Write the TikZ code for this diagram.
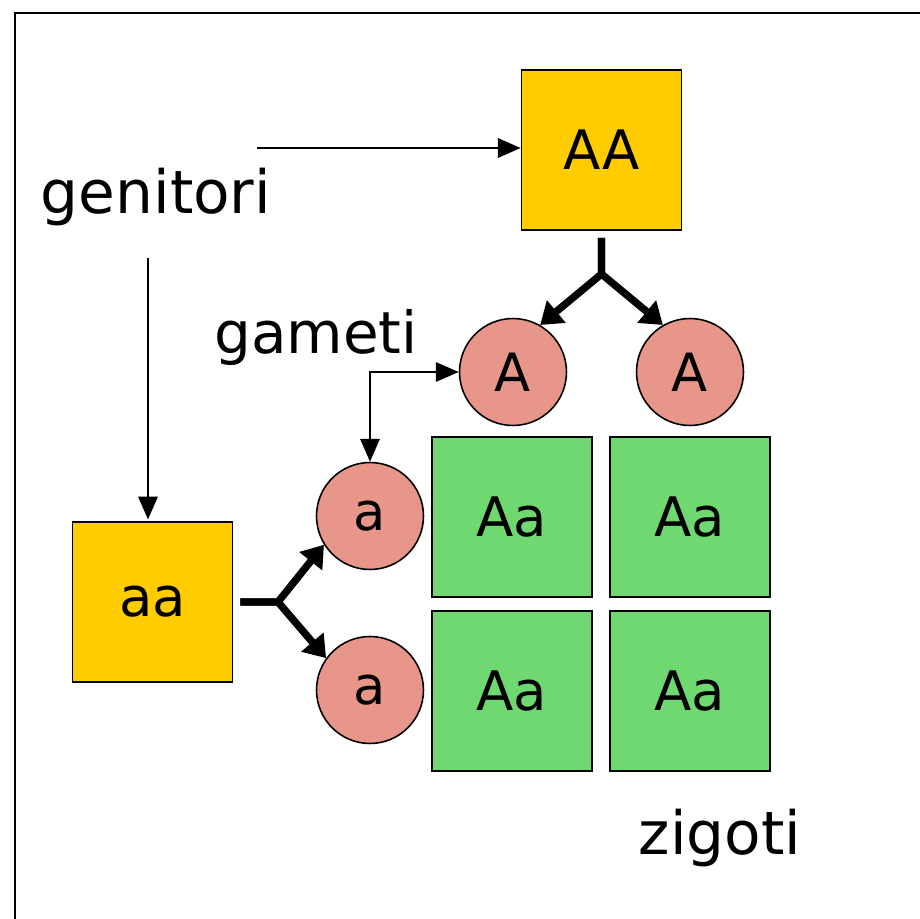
\documentclass[tikz,border=0pt]{standalone}
\usepackage{fontspec}
\setmainfont{DejaVu Sans}
\usetikzlibrary{arrows.meta}
\definecolor{gold}{HTML}{FFCC00}
\definecolor{pinkc}{HTML}{E8968A}
\definecolor{greenc}{HTML}{70D870}
\begin{document}
\begin{tikzpicture}[x=0.02cm,y=-0.02cm,
  box/.style={draw=black, line width=0.9pt, minimum size=3.2cm, inner sep=0pt, font=\fontsize{31}{36}\selectfont},
  par/.style={box, fill=gold},
  zyg/.style={box, fill=greenc},
  gam/.style={circle, draw=black, line width=0.9pt, fill=pinkc, minimum size=2.14cm, inner sep=0pt, font=\fontsize{30}{36}\selectfont},
  lbl/.style={inner sep=0pt, font=\fontsize{34}{40}\selectfont},
  arr/.style={line width=1.2pt, -{Triangle[length=13pt,width=11pt]}},
  forkarr/.style={line width=4.2pt, line join=round, -{Triangle[length=12pt,width=16pt]}}
]
\useasboundingbox (0,0) rectangle (920,919);
\draw[line width=1.2pt] (15,930) -- (15,13) -- (930,13);

\node[par] (AA) at (601.5,150) {AA};
\node[par] (aa) at (152.5,602) {aa};
\node[gam] (A1) at (513,372) {A};
\node[gam] (A2) at (690,372) {A};
\node[gam] (a1) at (370,516) {a};
\node[gam] (a2) at (370,690) {a};
\node[zyg] (z11) at (512,517) {Aa};
\node[zyg] (z12) at (690,517) {Aa};
\node[zyg] (z21) at (512,691) {Aa};
\node[zyg] (z22) at (690,691) {Aa};

\node[lbl] (gen) at (156,197) {genitori};
\node[lbl, font=\fontsize{33}{40}\selectfont] (gam) at (316,338) {gameti};
\node[lbl] (zig) at (720,838) {zigoti};

\coordinate (g1) at (257,148);
\coordinate (g2) at (148,258);
\draw[arr] (g1) -- (g1 -| AA.west);
\draw[arr, shorten >=1pt] (g2) -- (g2 |- aa.north);

\draw[arr, {Triangle[length=13pt,width=11pt]}-{Triangle[length=13pt,width=11pt]}] (a1.north) |- (A1.west);

\coordinate (fAA) at (601.5,274);
\draw[forkarr, shorten <=4pt] (AA.south) -- (fAA) -- (A1.60);
\draw[forkarr, shorten <=4pt] (AA.south) -- (fAA) -- (A2.120);

\coordinate (faa) at (278,602);
\draw[forkarr, shorten <=4pt] (aa.east) -- (faa) -- (a1.212);
\draw[forkarr, shorten <=4pt] (aa.east) -- (faa) -- (a2.144);
\end{tikzpicture}
\end{document}
